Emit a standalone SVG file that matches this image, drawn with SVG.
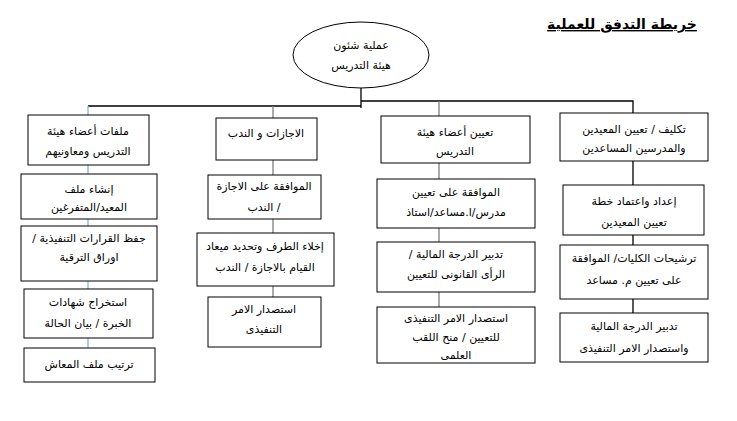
<svg xmlns="http://www.w3.org/2000/svg" width="737" height="421" viewBox="0 0 737 421">
<style>
text{font-family:"DejaVu Sans","Liberation Sans",sans-serif;font-size:11px;fill:#000;text-anchor:middle;direction:rtl;unicode-bidi:embed}
.box{fill:#fff;stroke:#000;stroke-width:1}
.title{font-size:14px;font-weight:bold;text-decoration:underline}
.c{fill:none;stroke-width:1.3}
.k{stroke:#000}
.b{stroke:#8db3e2}
.g{stroke:#7f7f7f}
</style>
<rect width="737" height="421" fill="#fff"/>
<text class="title" x="622" y="29">خريطة التدفق للعملية</text>
<g id="connectors">
<path class="c k" d="M361 88V108M88 106H361M361 101H633V113"/>
<path class="c b" d="M88 106V115M88 165V174M88 219V226M88 281V289M88 338V348"/>
<path class="c g" d="M273 106V118M273 160V175M273 219V233M273 286V297"/>
<path class="c g" d="M439 101V116M439 163V179M439 228V242M439 292V307"/>
<path class="c k" d="M633 161V185M633 235V245M633 299V313"/>
</g>
<g id="root"><ellipse class="box" cx="361" cy="55" rx="68" ry="33"/><text x="361" y="49">عملية شئون</text><text x="361" y="69">هيئة التدريس</text></g>
<g id="c1b1"><rect class="box" x="28" y="115" width="121" height="50"/><text x="88" y="135">ملفات أعضاء هيئة</text><text x="88" y="155">التدريس ومعاونيهم</text></g>
<g id="c1b2"><rect class="box" x="21" y="174" width="136" height="45"/><text x="89" y="193">إنشاء ملف</text><text x="89" y="211">المعيد/المتفرغين</text></g>
<g id="c1b3"><rect class="box" x="21" y="226" width="136" height="55"/><text x="89" y="242">جفظ القرارات التنفيذية /</text><text x="89" y="261">اوراق الترقية</text></g>
<g id="c1b4"><rect class="box" x="24" y="289" width="129" height="49"/><text x="88" y="306">استخراج شهادات</text><text x="88" y="327">الخبرة / بيان الحالة</text></g>
<g id="c1b5"><rect class="box" x="24" y="348" width="131" height="34"/><text x="89" y="368">ترتيب ملف المعاش</text></g>
<g id="c2b1"><rect class="box" x="216" y="118" width="101" height="42"/><text x="266" y="137">الاجازات و الندب</text></g>
<g id="c2b2"><rect class="box" x="208" y="175" width="113" height="44"/><text x="264" y="190">الموافقة على الاجازة</text><text x="264" y="211">/ الندب</text></g>
<g id="c2b3"><rect class="box" x="197" y="233" width="137" height="53"/><text x="265" y="250">إخلاء الطرف وتحديد ميعاد</text><text x="265" y="271">القيام بالاجازة / الندب</text></g>
<g id="c2b4"><rect class="box" x="208" y="297" width="113" height="50"/><text x="264" y="313">استصدار الامر</text><text x="264" y="333">التنفيذى</text></g>
<g id="c3b1"><rect class="box" x="381" y="116" width="149" height="47"/><text x="455" y="136">تعيين أعضاء هيئة</text><text x="455" y="155">التدريس</text></g>
<g id="c3b2"><rect class="box" x="377" y="179" width="158" height="49"/><text x="456" y="196">الموافقة على تعيين</text><text x="456" y="216">مدرس/ا.مساعد/استاذ</text></g>
<g id="c3b3"><rect class="box" x="377" y="242" width="158" height="50"/><text x="456" y="258">تدبير الدرجة المالية /</text><text x="456" y="278">الرأى القانونى للتعيين</text></g>
<g id="c3b4"><rect class="box" x="377" y="307" width="158" height="56"/><text x="456" y="322">استصدار الامر التنفيذى</text><text x="456" y="341">للتعيين / منح اللقب</text><text x="456" y="359">العلمى</text></g>
<g id="c4b1"><rect class="box" x="560" y="113" width="148" height="48"/><text x="634" y="133">تكليف / تعيين المعيدين</text><text x="634" y="152">والمدرسين المساعدين</text></g>
<g id="c4b2"><rect class="box" x="563" y="185" width="141" height="50"/><text x="634" y="205">إعداد واعتماد خطة</text><text x="634" y="226">تعيين المعيدين</text></g>
<g id="c4b3"><rect class="box" x="560" y="245" width="148" height="54"/><text x="634" y="262">ترشيحات الكليات/ الموافقة</text><text x="634" y="284">على تعيين م. مساعد</text></g>
<g id="c4b4"><rect class="box" x="560" y="313" width="148" height="49"/><text x="634" y="330">تدبير الدرجة المالية</text><text x="634" y="352">واستصدار الامر التنفيذى</text></g>
</svg>
